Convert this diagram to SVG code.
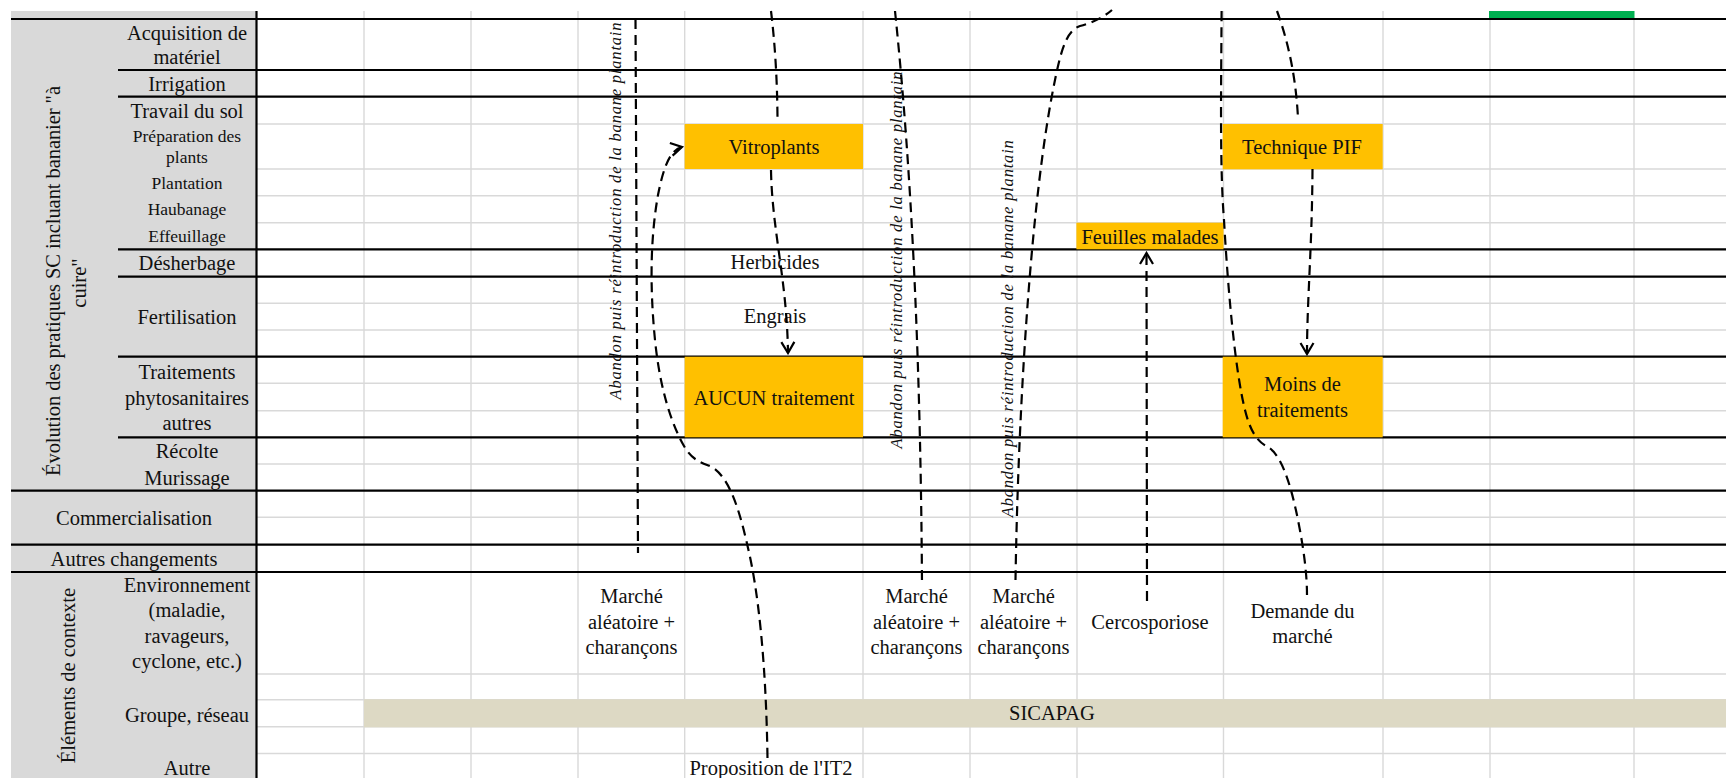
<svg xmlns="http://www.w3.org/2000/svg" width="1726" height="778" viewBox="0 0 1726 778">
<style>
.bg{fill:#ffffff}
.panel{fill:#D9D9D9}
.gg{stroke:#D9D9D9;stroke-width:1.4;fill:none}
.gb{stroke:#000000;stroke-width:2.2;fill:none}
.box{fill:#FFC000}
.band{fill:#DDD9C4}
.green{fill:#00B050}
text{font-family:"Liberation Serif","Times New Roman",serif;fill:#111111}
.t{font-size:20.5px;text-anchor:middle}
.s{font-size:17.5px;text-anchor:middle}
.it{font-size:16.5px;font-style:italic;text-anchor:middle}
.conn{fill:none;stroke:#000000;stroke-width:2.2;stroke-dasharray:10 6}
</style>
<defs>
<marker id="arr" viewBox="-14 -9 16 18" refX="0" refY="0" markerWidth="16" markerHeight="18" markerUnits="userSpaceOnUse" orient="auto">
<path d="M-11,-6.5 L0,0 L-11,6.5" fill="none" stroke="#000000" stroke-width="2.2" stroke-linejoin="miter"/>
</marker>
</defs>
<rect class="bg" x="0" y="0" width="1726" height="778"/>

<g id="grid">
<rect class="panel" x="11" y="11" width="245.5" height="767"/>
<rect class="green" x="1489" y="11" width="145.5" height="8"/>
<g class="gg">
<line x1="364" y1="11" x2="364" y2="778"/>
<line x1="471" y1="11" x2="471" y2="778"/>
<line x1="578" y1="11" x2="578" y2="778"/>
<line x1="684.7" y1="11" x2="684.7" y2="778"/>
<line x1="863" y1="11" x2="863" y2="778"/>
<line x1="970" y1="11" x2="970" y2="778"/>
<line x1="1077" y1="11" x2="1077" y2="778"/>
<line x1="1223.5" y1="11" x2="1223.5" y2="778"/>
<line x1="1383" y1="11" x2="1383" y2="778"/>
<line x1="1490" y1="19" x2="1490" y2="778"/>
<line x1="1634" y1="19" x2="1634" y2="778"/>
<line x1="256.5" y1="124" x2="1726" y2="124"/>
<line x1="256.5" y1="169" x2="1726" y2="169"/>
<line x1="256.5" y1="195.7" x2="1726" y2="195.7"/>
<line x1="256.5" y1="222.7" x2="1726" y2="222.7"/>
<line x1="256.5" y1="303.3" x2="1726" y2="303.3"/>
<line x1="256.5" y1="330" x2="1726" y2="330"/>
<line x1="256.5" y1="383.3" x2="1726" y2="383.3"/>
<line x1="256.5" y1="410.7" x2="1726" y2="410.7"/>
<line x1="256.5" y1="464" x2="1726" y2="464"/>
<line x1="256.5" y1="517.3" x2="1726" y2="517.3"/>
<line x1="256.5" y1="674" x2="1726" y2="674"/>
<line x1="256.5" y1="699.8" x2="1726" y2="699.8"/>
<line x1="256.5" y1="726.8" x2="1726" y2="726.8"/>
<line x1="256.5" y1="753.5" x2="1726" y2="753.5"/>
</g>
<rect class="band" x="364" y="699.3" width="1362" height="28"/>
<g class="gb">
<line x1="11" y1="19" x2="1726" y2="19"/>
<line x1="118" y1="70" x2="1726" y2="70"/>
<line x1="118" y1="96.7" x2="1726" y2="96.7"/>
<line x1="118" y1="249.3" x2="1726" y2="249.3"/>
<line x1="118" y1="276.7" x2="1726" y2="276.7"/>
<line x1="118" y1="356.7" x2="1726" y2="356.7"/>
<line x1="118" y1="437.3" x2="1726" y2="437.3"/>
<line x1="11" y1="490.7" x2="1726" y2="490.7"/>
<line x1="11" y1="544.7" x2="1726" y2="544.7"/>
<line x1="11" y1="572" x2="1726" y2="572"/>
<line x1="256.5" y1="11" x2="256.5" y2="778"/>
</g>
</g>

<g id="labels">
<text class="t" transform="translate(59.5,281) rotate(-90)" textLength="390" lengthAdjust="spacing">Évolution des pratiques SC incluant bananier "à</text>
<text class="t" transform="translate(86,283) rotate(-90)">cuire"</text>
<text class="t" transform="translate(74.5,675.5) rotate(-90)">Éléments de contexte</text>
<text class="t" x="187" y="40">Acquisition de</text>
<text class="t" x="187" y="64.3">matériel</text>
<text class="t" x="187" y="90.7">Irrigation</text>
<text class="t" x="187" y="117.7">Travail du sol</text>
<text class="s" x="187" y="142.3">Préparation des</text>
<text class="s" x="187" y="163.3">plants</text>
<text class="s" x="187" y="189">Plantation</text>
<text class="s" x="187" y="215">Haubanage</text>
<text class="s" x="187" y="241.7">Effeuillage</text>
<text class="t" x="187" y="270">Désherbage</text>
<text class="t" x="187" y="324">Fertilisation</text>
<text class="t" x="187" y="379">Traitements</text>
<text class="t" x="187" y="405">phytosanitaires</text>
<text class="t" x="187" y="430">autres</text>
<text class="t" x="187" y="458.3">Récolte</text>
<text class="t" x="187" y="485">Murissage</text>
<text class="t" x="134" y="525">Commercialisation</text>
<text class="t" x="134" y="565.7">Autres changements</text>
<text class="t" x="187" y="592.3">Environnement</text>
<text class="t" x="187" y="617.3">(maladie,</text>
<text class="t" x="187" y="643.3">ravageurs,</text>
<text class="t" x="187" y="668.3">cyclone, etc.)</text>
<text class="t" x="187" y="721.7">Groupe, réseau</text>
<text class="t" x="187" y="775">Autre</text>
</g>

<g id="n-vitroplants"><rect class="box" x="684.7" y="124" width="178.3" height="45"/><text class="t" x="774" y="154">Vitroplants</text></g>
<g id="n-aucun"><rect class="box" x="684.7" y="356.7" width="178.3" height="80.6"/><text class="t" x="774" y="405">AUCUN traitement</text></g>
<g id="n-feuilles"><rect class="box" x="1076.4" y="222.7" width="147.1" height="26.6"/><text class="t" x="1150" y="244">Feuilles malades</text></g>
<g id="n-pif"><rect class="box" x="1222.7" y="124" width="160" height="45.3"/><text class="t" x="1302" y="154">Technique PIF</text></g>
<g id="n-moins"><rect class="box" x="1222.7" y="356.7" width="160" height="80.6"/><text class="t" x="1302.5" y="390.7">Moins de</text><text class="t" x="1302.5" y="416.7">traitements</text></g>
<g id="n-herbicides"><text class="t" x="775" y="269.3">Herbicides</text></g>
<g id="n-engrais"><text class="t" x="775" y="323.3">Engrais</text></g>
<g id="n-sicapag"><text class="t" x="1052" y="720">SICAPAG</text></g>
<g id="n-marche1"><text class="t" x="631.5" y="603.3">Marché</text><text class="t" x="631.5" y="629.3">aléatoire +</text><text class="t" x="631.5" y="654">charançons</text></g>
<g id="n-marche2"><text class="t" x="916.5" y="603.3">Marché</text><text class="t" x="916.5" y="629.3">aléatoire +</text><text class="t" x="916.5" y="654">charançons</text></g>
<g id="n-marche3"><text class="t" x="1023.5" y="603.3">Marché</text><text class="t" x="1023.5" y="629.3">aléatoire +</text><text class="t" x="1023.5" y="654">charançons</text></g>
<g id="n-cercosporiose"><text class="t" x="1150" y="629.3">Cercosporiose</text></g>
<g id="n-demande"><text class="t" x="1302.5" y="617.7">Demande du</text><text class="t" x="1302.5" y="642.7">marché</text></g>
<g id="n-it2"><text class="t" x="771" y="775">Proposition de l'IT2</text></g>
<g id="n-abandon1"><text class="it" transform="translate(620.5,211) rotate(-90)" textLength="377" lengthAdjust="spacing">Abandon puis réintroduction de la banane plantain</text></g>
<g id="n-abandon2"><text class="it" transform="translate(901.5,260) rotate(-90)" textLength="377" lengthAdjust="spacing">Abandon puis réintroduction de la banane plantain</text></g>
<g id="n-abandon3"><text class="it" transform="translate(1012.5,328.7) rotate(-90)" textLength="377" lengthAdjust="spacing">Abandon puis réintroduction de la banane plantain</text></g>

<g id="connectors">
<path class="conn" d="M635.5,19 L638,553"/>
<path class="conn" d="M767.5,758 C766,660 758,590 748,548 C740,512 730,478 712,467 C700,462 692,460 684,446 C672,425 660,390 655,340 C650,290 650,240 658,195 C662,175 668,150 682,147" marker-end="url(#arr)"/>
<path class="conn" d="M771,11 Q777,60 777.5,118"/>
<path class="conn" d="M771,170 C772,230 787,280 788,353" marker-end="url(#arr)"/>
<path class="conn" d="M895,11 Q920,250 922,585"/>
<path class="conn" d="M1015.5,580 C1018,420 1030,200 1055,80 C1062,45 1068,30 1080,26 C1095,22 1105,16 1112,10"/>
<path class="conn" d="M1147,601 L1146.5,253" marker-end="url(#arr)"/>
<path class="conn" d="M1277,11 Q1295,60 1298,118"/>
<path class="conn" d="M1312.5,169 C1312,250 1307,300 1307,354" marker-end="url(#arr)"/>
<path class="conn" d="M1221.6,11 C1221,100 1220,170 1224,220 C1228,290 1235,370 1245,410 C1250,430 1256,440 1266,446 C1280,452 1290,480 1298,520 C1304,550 1307,575 1307,595"/>
</g>
</svg>
